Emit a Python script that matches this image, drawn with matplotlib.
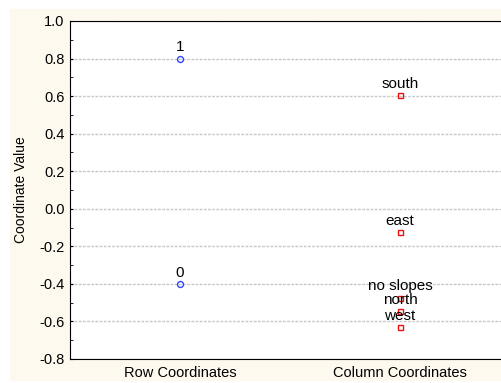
import matplotlib.pyplot as plt
from matplotlib.patches import Rectangle

plt.rcParams['font.family'] = ['Liberation Sans', 'DejaVu Sans']

groups = ["Row Coordinates", "Column Coordinates"]

row_labels = ["1", "0"]
row_values = [0.80, -0.40]

col_labels = ["south", "east", "no slopes", "north", "west"]
col_values = [0.606, -0.124, -0.473, -0.543, -0.628]

W, H = 502, 383
fig = plt.figure(figsize=(W / 100, H / 100), dpi=100)
fig.patch.set_facecolor('white')
# cream panel behind the plot
fig.patches.append(Rectangle((10 / W, 2 / H), 492 / W, 372 / H,
                             transform=fig.transFigure, facecolor='#fdf9ef',
                             edgecolor='none', zorder=-10))

ax = fig.add_axes([70 / W, 24 / H, 440 / W, 338 / H])
ax.set_facecolor('white')

ax.plot([0] * len(row_values), row_values, 'o', mfc='none', mec='#3344ff',
        ms=4.3, mew=1, zorder=3)
ax.plot([1] * len(col_values), col_values, 's', mfc='none', mec='#ee1111',
        ms=3.6, mew=1, zorder=3)

for lab, v in zip(row_labels, row_values):
    ax.annotate(lab, (0, v), xytext=(0, 8), textcoords='offset points',
                ha='center', va='center', fontsize=11, color='black')
for lab, v in zip(col_labels, col_values):
    ax.annotate(lab, (1, v), xytext=(0, 8), textcoords='offset points',
                ha='center', va='center', fontsize=11, color='black')

ax.set_xlim(-0.5, 1.5)
ax.set_ylim(-0.8, 1.0)
ax.set_xticks([0, 1])
ax.set_xticklabels(groups)
ax.set_yticks([-0.8, -0.6, -0.4, -0.2, 0.0, 0.2, 0.4, 0.6, 0.8, 1.0])
ax.set_yticklabels(['%.1f' % t for t in ax.get_yticks()])
ax.set_yticks([x / 10 for x in range(-7, 10, 2)], minor=True)
ax.tick_params(axis='y', which='both', direction='in', length=2, labelsize=10.5, pad=4)
ax.tick_params(axis='x', length=0, labelsize=10.5, pad=5)
ax.yaxis.grid(True, color='#c8c8c8', linestyle=(0, (2, 1)), linewidth=1)
ax.set_axisbelow(True)
ax.spines['right'].set_visible(False)
ax.set_ylabel("Coordinate Value", fontsize=10, labelpad=8)

fig.savefig('out.png', dpi=100)
